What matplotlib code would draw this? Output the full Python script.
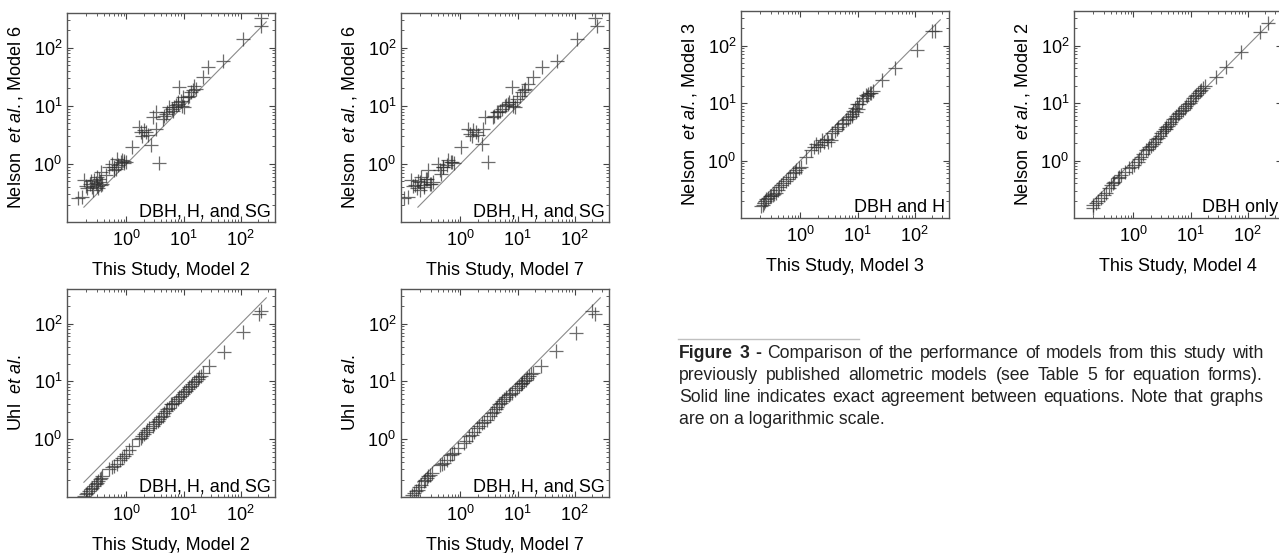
import matplotlib
matplotlib.use("Agg")
import matplotlib.pyplot as plt
from matplotlib.ticker import FixedLocator, LogLocator, NullFormatter, LogFormatterSciNotation

plt.rcParams['font.family'] = ['Liberation Sans', 'DejaVu Sans']
plt.rcParams['mathtext.fontset'] = 'custom'
plt.rcParams['mathtext.rm'] = 'Liberation Sans'
plt.rcParams['mathtext.it'] = 'Liberation Sans:italic'
plt.rcParams['mathtext.bf'] = 'Liberation Sans:bold'

# ---- data (biomass, both axes log) ----
p1_x = [0.144, 0.169, 0.181, 0.207, 0.227, 0.253, 0.271, 0.29, 0.31, 0.323, 0.34, 0.355, 0.38,
        0.568, 0.608, 0.65, 0.796, 0.91, 0.97, 0.434, 1.27, 1.67, 1.78, 2.04, 2.34, 2.67, 2.86,
        3.27, 3.74, 4.28, 4.9, 5.6, 6.86, 7.85, 8.4, 8.98, 10.3, 9.6, 11.8, 13.4, 15.4, 16.5,
        21.5, 26.4, 48.3, 108, 227, 227, 0.497, 0.695, 3.27, 6.41,
        0.2, 0.24, 0.26, 0.3, 0.33, 0.36, 0.6, 0.7, 0.85, 4.6, 5.2, 6.2, 7.4, 8.1, 9.2, 12.5,
        14.5, 2.2, 1.9, 0.9]
p1_y = [0.255, 0.265, 0.525, 0.378, 0.46, 0.404, 0.539, 0.472, 0.598, 0.378, 0.491, 0.729, 0.46,
        1.01, 0.778, 0.832, 1.08, 1.12, 1.08, 0.64, 1.96, 4.31, 3.54, 3.78, 3.1, 2.09, 6.4,
        4.04, 1.04, 5.98, 7.29, 9.5, 9.5, 10.8, 20.9, 12.3, 9.5, 14.1, 14.1, 17.1, 22.3, 19.6,
        31, 46, 60, 141, 331, 238, 0.889, 1.23, 7.8, 8.32,
        0.42, 0.5, 0.36, 0.42, 0.55, 0.44, 0.9, 0.95, 1.15, 6.6, 8.0, 9.0, 10.5, 11.5, 10.0, 15,
        18.5, 3.6, 3.0, 1.05]

p2_x = [0.105, 0.121, 0.138, 0.158, 0.174, 0.194, 0.207, 0.227, 0.247, 0.271, 0.29, 0.406,
        0.434, 0.497, 0.608, 0.695, 1.04, 1.36, 1.46, 1.67, 2.04, 2.34, 2.5, 2.67, 3.06, 3.74,
        4.28, 4.9, 6.0, 6.86, 7.85, 8.4, 8.98, 9.6, 11.8, 13.4, 15.4, 18.8, 26.4, 48.3, 108,
        227, 243, 0.331, 0.464,
        0.15, 0.18, 0.2, 0.23, 0.26, 0.3, 0.5, 0.58, 0.72, 3.9, 4.5, 5.4, 6.4, 7.2, 8.2, 11.0,
        12.8, 1.9, 1.6, 0.78]
p2_y = [0.255, 0.272, 0.525, 0.431, 0.378, 0.491, 0.598, 0.404, 0.561, 0.778, 0.46, 1.01,
        0.778, 0.889, 1.16, 1.08, 1.96, 4.04, 3.31, 3.78, 3.1, 2.23, 4.04, 6.4, 1.08, 6.4,
        7.8, 8.32, 10.1, 10.8, 20.9, 11.6, 9.5, 13.2, 17.1, 19.6, 23.8, 31, 46, 60, 141,
        331, 238, 0.491, 0.683,
        0.42, 0.5, 0.36, 0.44, 0.55, 0.45, 0.9, 0.95, 1.1, 6.6, 8.0, 9.0, 10.5, 11.5, 10.0, 15,
        18.5, 3.6, 3.0, 1.05]

p3_x = [0.181, 0.207, 0.237, 0.271, 0.31, 0.34, 0.38, 0.608, 0.695, 0.851, 0.97, 1.27, 1.67,
        1.78, 2.04, 2.5, 2.86, 3.27, 3.74, 4.28, 4.9, 5.6, 6.86, 7.85, 8.98, 9.6, 11.8, 13.4,
        15.4, 17.6, 20.1, 21.5, 28.2, 51.7, 108, 212, 227, 0.497, 0.253, 2.18, 6.0, 11.0,
        0.2, 0.22, 0.29, 0.32, 0.36, 0.55, 0.78, 0.9, 1.1, 1.9, 2.3, 3.0, 3.5, 4.0, 4.6, 5.2,
        6.4, 7.3, 8.4, 10.3, 12.5, 14.3, 16.5, 18.8]
p3_y = [0.104, 0.119, 0.136, 0.155, 0.177, 0.202, 0.231, 0.345, 0.368, 0.481, 0.55, 0.766, 1.0,
        1.07, 1.22, 1.59, 1.7, 1.95, 2.22, 2.54, 3.1, 3.54, 4.32, 4.94, 5.64, 6.03, 7.36, 8.41,
        9.6, 11.0, 12.5, 13.8, 18.7, 31.8, 70.7, 147, 168, 0.302, 0.145, 1.31, 4.05, 6.89,
        0.112, 0.128, 0.165, 0.19, 0.215, 0.33, 0.43, 0.52, 0.65, 1.15, 1.45, 1.8, 2.1, 2.4,
        2.8, 3.3, 4.0, 4.6, 5.3, 6.5, 7.9, 9.0, 10.3, 11.8]

p4_x = [0.129, 0.156, 0.178, 0.204, 0.227, 0.26, 0.29, 0.446, 0.51, 0.668, 0.764, 1.14, 1.4,
        1.6, 1.96, 2.4, 2.94, 3.6, 4.11, 4.71, 5.75, 7.05, 8.05, 9.86, 11.3, 12.9, 14.8, 17.4,
        25.3, 46.5, 104, 204, 0.583, 0.318, 5.03, 12.1, 224,
        0.14, 0.17, 0.19, 0.24, 0.27, 0.48, 0.72, 0.9, 1.25, 1.75, 2.15, 2.6, 3.3, 3.8, 4.4,
        5.4, 6.4, 7.5, 9.0, 10.6, 12.0, 13.8, 16, 18.5]
p4_y = [0.099, 0.117, 0.134, 0.164, 0.187, 0.213, 0.244, 0.364, 0.389, 0.542, 0.579, 0.863, 1.13,
        1.2, 1.57, 1.92, 2.19, 2.86, 3.27, 3.99, 4.87, 5.8, 6.35, 7.76, 8.87, 10.1, 11.6, 13.2,
        18.4, 33.6, 69.8, 166, 0.444, 0.261, 4.27, 9.48, 149,
        0.107, 0.125, 0.15, 0.2, 0.23, 0.375, 0.56, 0.7, 0.95, 1.35, 1.7, 2.0, 2.5, 3.0, 3.6,
        4.5, 5.3, 6.0, 7.2, 8.3, 9.5, 10.8, 12.3, 14]

p5_x = [0.207, 0.227, 0.253, 0.29, 0.331, 0.369, 0.464, 0.497, 0.65, 0.743, 0.851, 1.04, 1.27,
        1.56, 1.91, 2.18, 2.34, 2.86, 3.06, 4.0, 4.58, 5.24, 6.86, 7.85, 8.98, 9.6, 10.3, 11.8,
        14.4, 16.5, 18.8, 26.4, 45.2, 108, 199, 227, 8.4, 0.406, 3.36,
        0.22, 0.24, 0.27, 0.31, 0.35, 0.43, 0.55, 0.6, 0.8, 0.95, 1.7, 2.0, 2.6, 3.6, 4.3, 5.6,
        6.3, 7.3, 8.0, 9.2, 10.8, 12.6, 13.8, 15.5, 17.5]
p5_y = [0.161, 0.184, 0.21, 0.239, 0.255, 0.273, 0.378, 0.404, 0.526, 0.6, 0.684, 0.78, 1.16,
        1.5, 1.95, 1.83, 2.23, 2.38, 2.08, 3.3, 3.76, 4.29, 5.22, 5.96, 8.26, 9.43, 7.74, 10.7,
        13.1, 14.9, 15.9, 25.2, 39.9, 82.2, 180, 180, 7.25, 0.311, 2.23,
        0.17, 0.2, 0.225, 0.245, 0.265, 0.35, 0.44, 0.47, 0.64, 0.74, 1.7, 1.75, 2.1, 3.0, 3.5,
        4.5, 5.0, 5.6, 6.4, 7.0, 9.7, 12.0, 13.8, 14.5, 15.2]

p6_x = [0.194, 0.221, 0.271, 0.331, 0.406, 0.464, 0.531, 0.608, 0.851, 1.04, 1.36, 1.67, 1.91,
        2.18, 2.5, 2.86, 3.27, 3.74, 4.28, 4.9, 5.6, 6.86, 7.85, 8.98, 10.3, 11.8, 13.4, 15.4,
        17.6, 28.2, 42.3, 77.4, 162, 227, 6.0, 3.74, 1.19,
        0.2, 0.24, 0.3, 0.37, 0.44, 0.57, 0.7, 0.95, 1.25, 1.5, 1.8, 2.0, 2.35, 2.7, 3.0, 3.5,
        4.0, 4.6, 5.3, 6.4, 7.3, 8.4, 9.6, 11.0, 12.6, 14.4, 16.5]
p6_y = [0.151, 0.184, 0.224, 0.273, 0.378, 0.431, 0.492, 0.561, 0.73, 0.832, 1.16, 1.5, 1.71,
        1.95, 2.38, 2.71, 3.3, 3.76, 4.29, 5.22, 5.96, 7.25, 8.26, 9.43, 10.7, 13.1, 14.9, 17.0,
        19.4, 28.8, 42.6, 76.9, 169, 251, 6.36, 3.52, 0.95,
        0.165, 0.2, 0.25, 0.33, 0.4, 0.52, 0.64, 0.78, 1.05, 1.3, 1.6, 1.8, 2.1, 2.5, 3.0, 3.5,
        4.0, 4.7, 5.5, 6.8, 7.7, 8.8, 10.0, 12.0, 14.0, 15.9, 18.1]

one_to_one = [0.18, 280]

W, H = 1279, 553
fig = plt.figure(figsize=(W / 100, H / 100), dpi=100)


def panel(left, top, w, h, xs, ys, xlab, ylab, note):
    ax = fig.add_axes([left / W, 1 - (top + h) / H, w / W, h / H])
    ax.plot(one_to_one, one_to_one, color='#8a8a8a', lw=0.8)
    ax.plot(xs, ys, '+', color='#2e2e2e', alpha=0.7, ms=9.5, mew=0.9)
    ax.set_xscale('log')
    ax.set_yscale('log')
    ax.set_xlim(10 ** -1.04, 10 ** 2.6)
    ax.set_ylim(10 ** -1.0, 10 ** 2.6)
    for axis in (ax.xaxis, ax.yaxis):
        axis.set_major_locator(FixedLocator([1, 10, 100]))
        axis.set_major_formatter(LogFormatterSciNotation())
        axis.set_minor_locator(LogLocator(base=10, subs=range(2, 10), numticks=20))
        axis.set_minor_formatter(NullFormatter())
    ax.tick_params(which='both', direction='in', top=True, right=True, colors='#444444',
                   labelcolor='black', labelsize=13)
    ax.tick_params(which='major', length=4, width=0.8)
    ax.tick_params(which='minor', length=2, width=0.6)
    ax.tick_params(axis='x', pad=6)
    for s in ax.spines.values():
        s.set_color('#555555')
        s.set_linewidth(1.0)
    ax.set_xlabel(xlab, fontsize=13)
    ax.set_ylabel(ylab, fontsize=13)
    ax.xaxis.set_label_coords(0.5, -40 / h)
    ax.yaxis.set_label_coords(-42 / w, 0.5)
    ax.text(1 - 4 / w, 6 / h, note, transform=ax.transAxes, ha='right', va='baseline',
            fontsize=13)
    return ax


nelson = r'Nelson  $\mathit{et\ al.}$, Model '
uhl = r'Uhl  $\mathit{et\ al.}$'
panel(67, 13, 208, 209, p1_x, p1_y, 'This Study, Model 2', nelson + '6', 'DBH, H, and SG')
panel(401, 13, 208, 209, p2_x, p2_y, 'This Study, Model 7', nelson + '6', 'DBH, H, and SG')
panel(67, 289, 208, 208, p3_x, p3_y, 'This Study, Model 2', uhl, 'DBH, H, and SG')
panel(401, 289, 208, 208, p4_x, p4_y, 'This Study, Model 7', uhl, 'DBH, H, and SG')
panel(741, 11, 208, 207, p5_x, p5_y, 'This Study, Model 3', nelson + '3', 'DBH and H')
panel(1074, 11, 208, 207, p6_x, p6_y, 'This Study, Model 4', nelson + '2', 'DBH only')

# ---- caption ----
fig.add_artist(plt.Line2D([678 / W, 859 / W], [1 - 339 / H, 1 - 339 / H],
                          color='#c0c0c0', lw=1.0))

cap_lines = [
    "Figure 3 - Comparison of the performance of models from this study with",
    "previously published allometric models (see Table 5 for equation forms).",
    "Solid line indicates exact agreement between equations. Note that graphs",
    "are on a logarithmic scale.",
]
cap_y = [354, 376, 398, 420]
cap_x0, cap_x1 = 679, 1263
renderer = fig.canvas.get_renderer()

# pick a size so the widest justified line fills the column with normal spacing
probe_size = 10
widest = 0
for i, line in enumerate(cap_lines[:-1]):
    t = fig.text(0, 0, line, fontsize=probe_size, weight='normal')
    widest = max(widest, t.get_window_extent(renderer).width)
    t.remove()
cap_size = probe_size * (cap_x1 - cap_x0) / widest * 0.985

for i, (line, y) in enumerate(zip(cap_lines, cap_y)):
    words = line.split(' ')
    if i == len(cap_lines) - 1:
        fig.text(cap_x0 / W, 1 - y / H, line, fontsize=cap_size, va='center', ha='left',
                 color='#222222')
        continue
    items = []
    for j, wd in enumerate(words):
        bold = (i == 0 and j < 3)
        t = fig.text(0, 1 - y / H, wd, fontsize=cap_size, va='center', ha='left',
                     weight='bold' if bold else 'normal', color='#222222')
        items.append(t)
    widths = [t.get_window_extent(renderer).width for t in items]
    gap = (cap_x1 - cap_x0 - sum(widths)) / (len(items) - 1)
    x = cap_x0
    for t, wdt in zip(items, widths):
        t.set_x(x / W)
        x += wdt + gap

fig.savefig('out.png', dpi=100)
